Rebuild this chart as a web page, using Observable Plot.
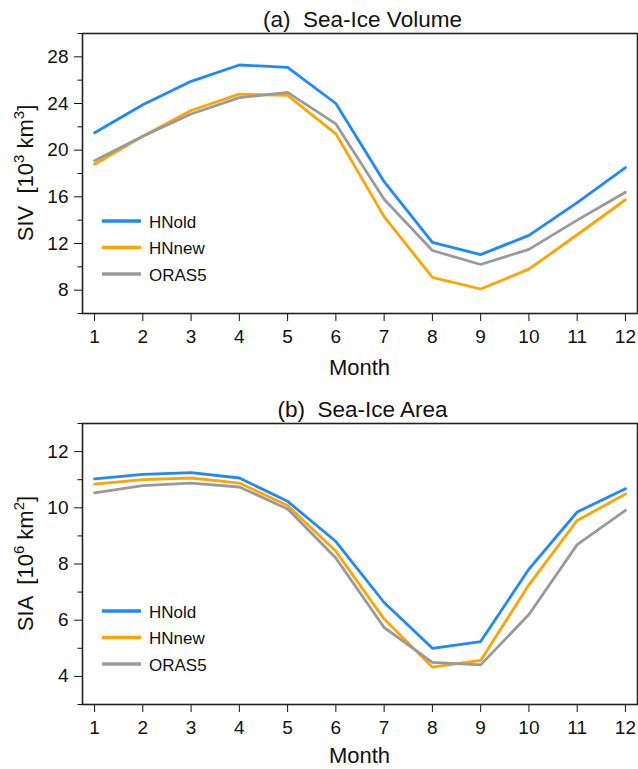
<!DOCTYPE html>
<html>
<head>
<meta charset="utf-8">
<script src="https://cdn.jsdelivr.net/npm/d3@7"></script>
<script src="https://cdn.jsdelivr.net/npm/@observablehq/plot@0.6"></script>
<style>
  body { margin: 0; background: #fff; }
  #chart svg { display: block; overflow: visible; }
</style>
</head>
<body>
<div id="chart"></div>
<script>
// ---- data ----
const months = [1, 2, 3, 4, 5, 6, 7, 8, 9, 10, 11, 12];
const seriesNames = ["HNold", "HNnew", "ORAS5"];
const seriesColors = ["#1e88ff", "#ffa500", "#9a9a9a"];

// (a) Sea-ice volume [10^3 km^3]
const sivHNold = [21.5, 23.9, 25.9, 27.3, 27.1, 24.0, 17.3, 12.1, 11.05, 12.7, 15.5, 18.5];
const sivHNnew = [18.8, 21.2, 23.4, 24.8, 24.7, 21.4, 14.3, 9.1, 8.1, 9.8, 12.75, 15.75];
const sivORAS5 = [19.1, 21.2, 23.1, 24.5, 24.95, 22.25, 15.8, 11.4, 10.2, 11.5, 14.0, 16.4];
const sivMajorTicks = [8, 12, 16, 20, 24, 28];
const sivMinorTicks = [6, 10, 14, 18, 22, 26, 30];

// (b) Sea-ice area [10^6 km^2]
const siaHNold = [11.03, 11.19, 11.25, 11.06, 10.23, 8.8, 6.63, 5.0, 5.24, 7.82, 9.85, 10.68];
const siaHNnew = [10.84, 11.0, 11.06, 10.88, 10.08, 8.45, 6.04, 4.33, 4.57, 7.26, 9.55, 10.49];
const siaORAS5 = [10.53, 10.79, 10.88, 10.74, 9.96, 8.21, 5.74, 4.5, 4.41, 6.2, 8.69, 9.91];
const siaMajorTicks = [4, 6, 8, 10, 12];
const siaMinorTicks = [3, 5, 7, 9, 11, 13];

const FONT = "Arial, 'Liberation Sans', Helvetica, sans-serif";

function panel({title, yName, yExp, yUnitExp, series, yDomain, yMajor, yMinor, height, marginBottom, monthDy}) {
  const data = [];
  seriesNames.forEach((name, i) => months.forEach((m, j) => data.push({series: name, month: m, value: series[i][j]})));
  const marginTop = 33, marginLeft = 82, marginRight = 1;
  const plot = Plot.plot({
    width: 638,
    height,
    marginTop, marginRight, marginBottom, marginLeft,
    style: {fontFamily: FONT, fontSize: "19px", color: "#111", background: "#fff"},
    x: {domain: [0.75, 12.25]},
    y: {domain: yDomain},
    color: {domain: seriesNames, range: seriesColors},
    marks: [
      Plot.axisX({ticks: months, tickSize: 8, tickPadding: 8, label: null, tickFormat: d => String(d)}),
      Plot.axisY({ticks: yMajor, tickSize: 8, tickPadding: 6, label: null}),
      Plot.axisY({ticks: yMinor, tickSize: 4.5, text: null, label: null}),
      Plot.line(data, {x: "month", y: "value", stroke: "series", z: "series", strokeWidth: 2.8}),
      Plot.frame({stroke: "#222", strokeWidth: 1.6})
    ]
  });
  const svg = d3.select(plot);
  const frameBottom = height - marginBottom;
  const cx = (marginLeft + 638 - marginRight) / 2;
  const cy = (marginTop + frameBottom) / 2;

  svg.append("text")
    .attr("x", cx + 3).attr("y", 27)
    .attr("text-anchor", "middle")
    .attr("fill", "#111")
    .attr("xml:space", "preserve")
    .style("white-space", "pre")
    .style("font-family", FONT).style("font-size", "22.5px")
    .text(title);

  svg.append("text")
    .attr("x", cx).attr("y", frameBottom + monthDy)
    .attr("text-anchor", "middle")
    .attr("fill", "#111")
    .style("font-family", FONT).style("font-size", "22px")
    .text("Month");

  const yl = svg.append("text")
    .attr("transform", `translate(33,${cy}) rotate(-90)`)
    .attr("text-anchor", "middle")
    .attr("fill", "#111")
    .attr("xml:space", "preserve")
    .style("white-space", "pre")
    .style("font-family", FONT).style("font-size", "22px");
  yl.append("tspan").text(yName + "  [10");
  yl.append("tspan").attr("dy", -9).style("font-size", "15px").text(yExp);
  yl.append("tspan").attr("dy", 9).text(" km");
  yl.append("tspan").attr("dy", -9).style("font-size", "15px").text(yUnitExp);
  yl.append("tspan").attr("dy", 9).text("]");

  const legY = [221, 247.5, 274];
  seriesNames.forEach((name, i) => {
    svg.append("line")
      .attr("x1", 102).attr("x2", 141)
      .attr("y1", legY[i]).attr("y2", legY[i])
      .attr("stroke", seriesColors[i]).attr("stroke-width", 3.3);
    svg.append("text")
      .attr("x", 149).attr("y", legY[i] + 1)
      .attr("text-anchor", "start")
      .attr("dominant-baseline", "central")
      .attr("fill", "#111")
      .style("font-family", FONT).style("font-size", "17px")
      .text(name);
  });
  return plot;
}

const chart = document.getElementById("chart");
chart.appendChild(panel({
  title: "(a)  Sea-Ice Volume", yName: "SIV", yExp: "3", yUnitExp: "3",
  series: [sivHNold, sivHNnew, sivORAS5],
  yDomain: [6, 30], yMajor: sivMajorTicks, yMinor: sivMinorTicks,
  height: 390, marginBottom: 77, monthDy: 62
}));
chart.appendChild(panel({
  title: "(b)  Sea-Ice Area", yName: "SIA", yExp: "6", yUnitExp: "2",
  series: [siaHNold, siaHNnew, siaORAS5],
  yDomain: [3, 13], yMajor: siaMajorTicks, yMinor: siaMinorTicks,
  height: 379, marginBottom: 65, monthDy: 59
}));
</script>
</body>
</html>
